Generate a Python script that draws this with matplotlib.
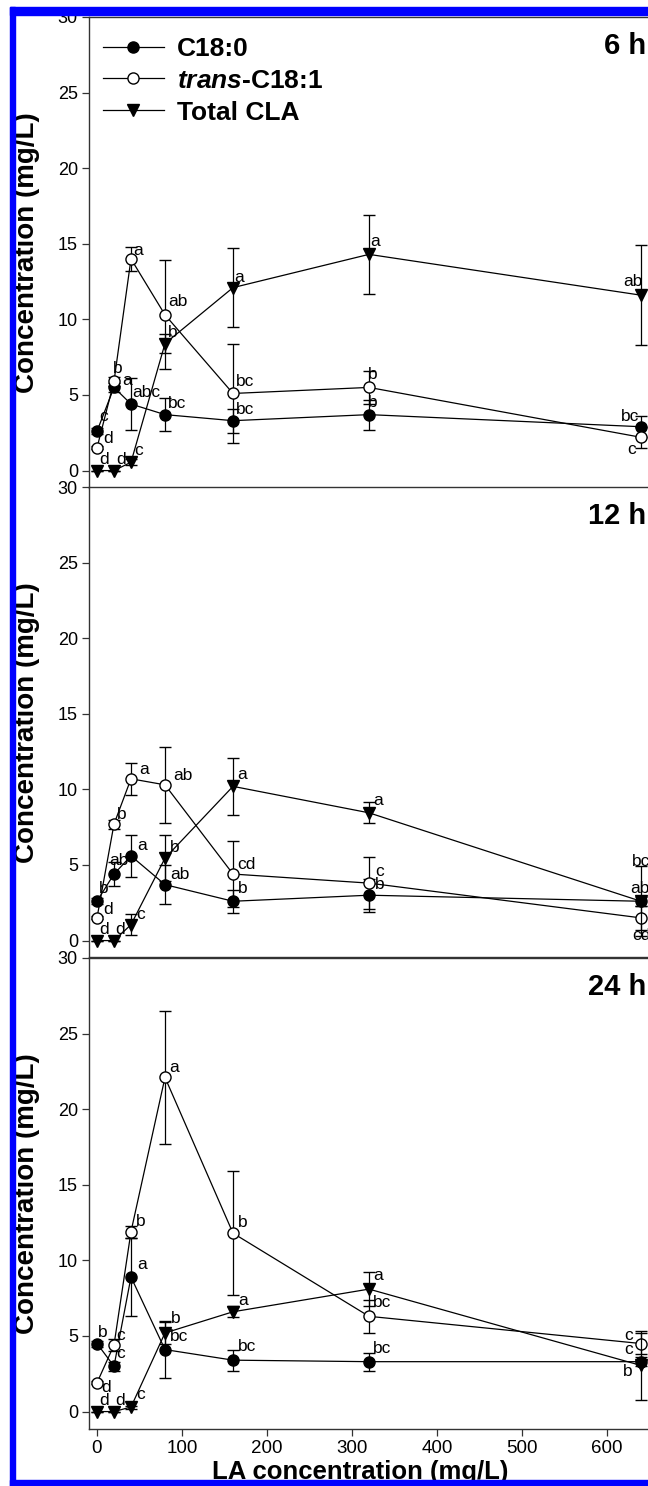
import matplotlib
matplotlib.use("Agg")
import matplotlib.pyplot as plt
from matplotlib.patches import Rectangle
from matplotlib.lines import Line2D
import matplotlib.transforms as mtransforms

plt.rcParams['font.family'] = ['Liberation Sans', 'DejaVu Sans']
plt.rcParams['mathtext.fontset'] = 'custom'
plt.rcParams['mathtext.bfit'] = 'Liberation Sans:italic:bold'
plt.rcParams['mathtext.rm'] = 'Liberation Sans'
plt.rcParams['mathtext.it'] = 'Liberation Sans:italic'
plt.rcParams['mathtext.bf'] = 'Liberation Sans:bold'

# ---------------- data ----------------
la_conc = [0, 20, 40, 80, 160, 320, 640]
panels = ["6 h", "12 h", "24 h"]
series_names = ["C18:0", r"$\mathbfit{trans}$-C18:1", "Total CLA"]

c180_6h = [2.6, 5.5, 4.4, 3.7, 3.3, 3.7, 2.9]
c180_6h_err = [0.2, 0.3, 1.7, 1.1, 0.8, 1.0, 0.7]
trans_6h = [1.5, 5.9, 14.0, 10.3, 5.1, 5.5, 2.2]
trans_6h_err = [0.1, 0.3, 0.8, 3.6, 3.3, 1.1, 0.7]
cla_6h = [0.0, 0.0, 0.55, 8.4, 12.1, 14.3, 11.6]
cla_6h_err = [0.0, 0.0, 0.2, 0.6, 2.6, 2.6, 3.3]

c180_12h = [2.6, 4.4, 5.6, 3.7, 2.6, 3.0, 2.6]
c180_12h_err = [0.2, 0.8, 1.4, 1.3, 0.75, 1.1, 0.3]
trans_12h = [1.5, 7.7, 10.7, 10.3, 4.4, 3.8, 1.5]
trans_12h_err = [0.1, 0.3, 1.05, 2.5, 2.2, 1.7, 0.8]
cla_12h = [0.0, 0.0, 1.05, 5.45, 10.2, 8.45, 2.6]
cla_12h_err = [0.0, 0.0, 0.7, 1.5, 1.9, 0.7, 2.3]

c180_24h = [4.5, 3.0, 8.9, 4.1, 3.4, 3.3, 3.3]
c180_24h_err = [0.2, 0.3, 2.6, 1.9, 0.7, 0.6, 0.3]
trans_24h = [1.9, 4.4, 11.9, 22.1, 11.8, 6.3, 4.5]
trans_24h_err = [0.1, 0.4, 0.4, 4.4, 4.1, 1.1, 0.7]
cla_24h = [0.0, 0.0, 0.3, 5.2, 6.6, 8.1, 3.05]
cla_24h_err = [0.0, 0.0, 0.1, 0.7, 0.35, 1.1, 2.3]

# significance letters
c180_6h_lab = ["c", "a", "abc", "bc", "bc", "b", "bc"]
trans_6h_lab = ["d", "b", "a", "ab", "bc", "b", "c"]
cla_6h_lab = ["d", "d", "c", "b", "a", "a", "ab"]
c180_12h_lab = ["b", "ab", "a", "ab", "b", "b", "ab"]
trans_12h_lab = ["d", "b", "a", "ab", "cd", "c", "cd"]
cla_12h_lab = ["d", "d", "c", "b", "a", "a", "bc"]
c180_24h_lab = ["b", "c", "a", "bc", "bc", "bc", "c"]
trans_24h_lab = ["d", "c", "b", "a", "b", "bc", "c"]
cla_24h_lab = ["d", "d", "c", "b", "a", "a", "b"]

panel_data = [
    [(c180_6h, c180_6h_err, c180_6h_lab), (trans_6h, trans_6h_err, trans_6h_lab), (cla_6h, cla_6h_err, cla_6h_lab)],
    [(c180_12h, c180_12h_err, c180_12h_lab), (trans_12h, trans_12h_err, trans_12h_lab), (cla_12h, cla_12h_err, cla_12h_lab)],
    [(c180_24h, c180_24h_err, c180_24h_lab), (trans_24h, trans_24h_err, trans_24h_lab), (cla_24h, cla_24h_err, cla_24h_lab)],
]

# ---------------- styles / layout ----------------
W, H = 648, 1486
fig = plt.figure(figsize=(W / 100, H / 100), dpi=100)

marker_styles = [
    dict(marker='o', mfc='black', mec='black', ms=8),
    dict(marker='o', mfc='white', mec='black', ms=8),
    dict(marker='v', mfc='black', mec='black', ms=9),
]

# label offsets in pixels (dx, dy up), ha, va ; default
DEF = (3, 4, 'left', 'bottom')
label_pos = {
    (0, 0, 0): (2, 7, 'left', 'bottom'), (0, 1, 0): (6, 2, 'left', 'bottom'),
    (0, 2, 0): (2, 4, 'left', 'bottom'), (0, 2, 1): (2, 4, 'left', 'bottom'),
    (0, 1, 1): (-1, 5, 'left', 'bottom'), (0, 0, 1): (8, -1, 'left', 'bottom'),
    (0, 0, 2): (1, 4, 'left', 'bottom'), (0, 1, 2): (2, 1, 'left', 'bottom'),
    (0, 1, 3): (3, 6, 'left', 'bottom'), (0, 2, 4): (1, 3, 'left', 'bottom'),
    (0, 1, 5): (-1, 5, 'left', 'bottom'), (0, 0, 5): (-1, 5, 'left', 'bottom'),
    (0, 2, 5): (1, 5, 'left', 'bottom'),
    (0, 2, 6): (2, 6, 'right', 'bottom'), (0, 0, 6): (-2, 3, 'right', 'bottom'),
    (0, 1, 6): (-5, -5, 'right', 'top'),
    (1, 1, 0): (6, 1, 'left', 'bottom'), (1, 0, 0): (2, 5, 'left', 'bottom'),
    (1, 2, 0): (2, 4, 'left', 'bottom'), (1, 2, 1): (1, 4, 'left', 'bottom'),
    (1, 2, 2): (5, 3, 'left', 'bottom'), (1, 0, 1): (-5, 6, 'left', 'bottom'),
    (1, 1, 1): (3, 2, 'left', 'bottom'), (1, 1, 2): (8, 2, 'left', 'bottom'),
    (1, 0, 2): (6, 3, 'left', 'bottom'), (1, 1, 3): (8, 2, 'left', 'bottom'),
    (1, 2, 3): (5, 3, 'left', 'bottom'), (1, 0, 3): (5, 3, 'left', 'bottom'),
    (1, 2, 4): (4, 4, 'left', 'bottom'), (1, 1, 4): (4, 2, 'left', 'bottom'),
    (1, 0, 4): (5, 5, 'left', 'bottom'), (1, 2, 5): (4, 5, 'left', 'bottom'),
    (1, 1, 5): (6, 4, 'left', 'bottom'), (1, 0, 5): (6, 3, 'left', 'bottom'),
    (1, 2, 6): (-9, 32, 'left', 'bottom'), (1, 0, 6): (-11, 5, 'left', 'bottom'),
    (1, 1, 6): (-9, -10, 'left', 'top'),
    (2, 0, 0): (1, 4, 'left', 'bottom'), (2, 1, 0): (4, -12, 'left', 'bottom'),
    (2, 2, 0): (2, 4, 'left', 'bottom'), (2, 2, 1): (1, 4, 'left', 'bottom'),
    (2, 2, 2): (5, 5, 'left', 'bottom'),
    (2, 1, 1): (2, 2, 'left', 'bottom'), (2, 0, 1): (2, 5, 'left', 'bottom'),
    (2, 1, 2): (5, 3, 'left', 'bottom'), (2, 0, 2): (6, 5, 'left', 'bottom'),
    (2, 1, 3): (4, 2, 'left', 'bottom'), (2, 2, 3): (6, 7, 'left', 'bottom'),
    (2, 0, 3): (5, 6, 'left', 'bottom'), (2, 1, 4): (5, 3, 'left', 'bottom'),
    (2, 2, 4): (5, 4, 'left', 'bottom'), (2, 0, 4): (5, 6, 'left', 'bottom'),
    (2, 2, 5): (4, 6, 'left', 'bottom'), (2, 1, 5): (4, 6, 'left', 'bottom'),
    (2, 0, 5): (4, 6, 'left', 'bottom'),
    (2, 1, 6): (-8, 1, 'right', 'bottom'), (2, 0, 6): (-8, 5, 'right', 'bottom'),
    (2, 2, 6): (-8, 1, 'right', 'top'),
}

left_px = 89
ax_w_px = 586
panel_tops = [17, 487, 958]
panel_h_px = 470.5
xlim = (-9.4, 680)
ylim = (-1.12, 30)

axes = []
for p in range(3):
    top = panel_tops[p]
    ax = fig.add_axes([left_px / W, 1 - (top + panel_h_px) / H, ax_w_px / W, panel_h_px / H])
    axes.append(ax)
    ax.set_xlim(*xlim)
    ax.set_ylim(*ylim)
    ax.spines['right'].set_visible(False)
    for sp in ['left', 'top', 'bottom']:
        ax.spines[sp].set_color('#333333')
        ax.spines[sp].set_linewidth(1.0)
    ax.set_yticks([0, 5, 10, 15, 20, 25, 30])
    ax.tick_params(axis='y', direction='out', length=5, width=0.9, color='#333333',
                   labelsize=13, pad=3)
    if p < 2:
        ax.tick_params(axis='x', bottom=False, labelbottom=False)
    else:
        ax.set_xticks([0, 100, 200, 300, 400, 500, 600])
        ax.tick_params(axis='x', direction='out', length=5, width=0.9, color='#333333',
                       labelsize=13.5, pad=3)
        ax.set_xlabel("LA concentration (mg/L)", fontsize=18.5, fontweight='bold')
        ax.xaxis.set_label_coords(0.4625, -0.066)
    ax.set_ylabel("Concentration (mg/L)", fontsize=20, fontweight='bold')
    ax.yaxis.set_label_coords(-0.084, 0.5)

    for s, (vals, errs, labs) in enumerate(panel_data[p]):
        st = marker_styles[s]
        ax.errorbar(la_conc, vals, yerr=errs, color='black', lw=0.9, elinewidth=0.9,
                    capsize=4, capthick=0.9, marker=st['marker'], mfc=st['mfc'],
                    mec=st['mec'], ms=st['ms'], mew=1.0, zorder=3 + s * 0.1,
                    label=series_names[s])
        for i, (x, y, t) in enumerate(zip(la_conc, vals, labs)):
            dx, dy, ha, va = label_pos.get((p, s, i), DEF)
            ax.annotate(t, (x, y), xytext=(dx * 0.72, dy * 0.72), textcoords='offset points',
                        ha=ha, va=va, fontsize=12.5, zorder=6)

    trans = mtransforms.blended_transform_factory(fig.transFigure, ax.transAxes)
    ax.text(646 / W, 1 - 29 / panel_h_px, panels[p], transform=trans, ha='right', va='center',
            fontsize=21, fontweight='bold')

handles = [Line2D([], [], color='black', lw=0.9, marker=st['marker'], mfc=st['mfc'],
                  mec=st['mec'], ms=st['ms'], mew=1.0) for st in marker_styles]
leg = axes[0].legend(handles, series_names, loc='upper left',
                     bbox_to_anchor=(0.024, 0.958), frameon=False, borderpad=0,
                     borderaxespad=0, handlelength=2.3, handletextpad=0.5,
                     labelspacing=0.3, prop=dict(size=19, weight='bold'))

# blue border
blue = '#0000ff'
border = [
    (10, 7, 5, H - 7),        # left
    (10, 7, W - 10, 8),       # top
    (10, H - 6, W - 10, 6),   # bottom
]
for (x, y, w, h) in border:
    fig.patches.append(Rectangle((x / W, 1 - (y + h) / H), w / W, h / H,
                                 transform=fig.transFigure, color=blue, zorder=20))

fig.savefig("out.png", dpi=100)
